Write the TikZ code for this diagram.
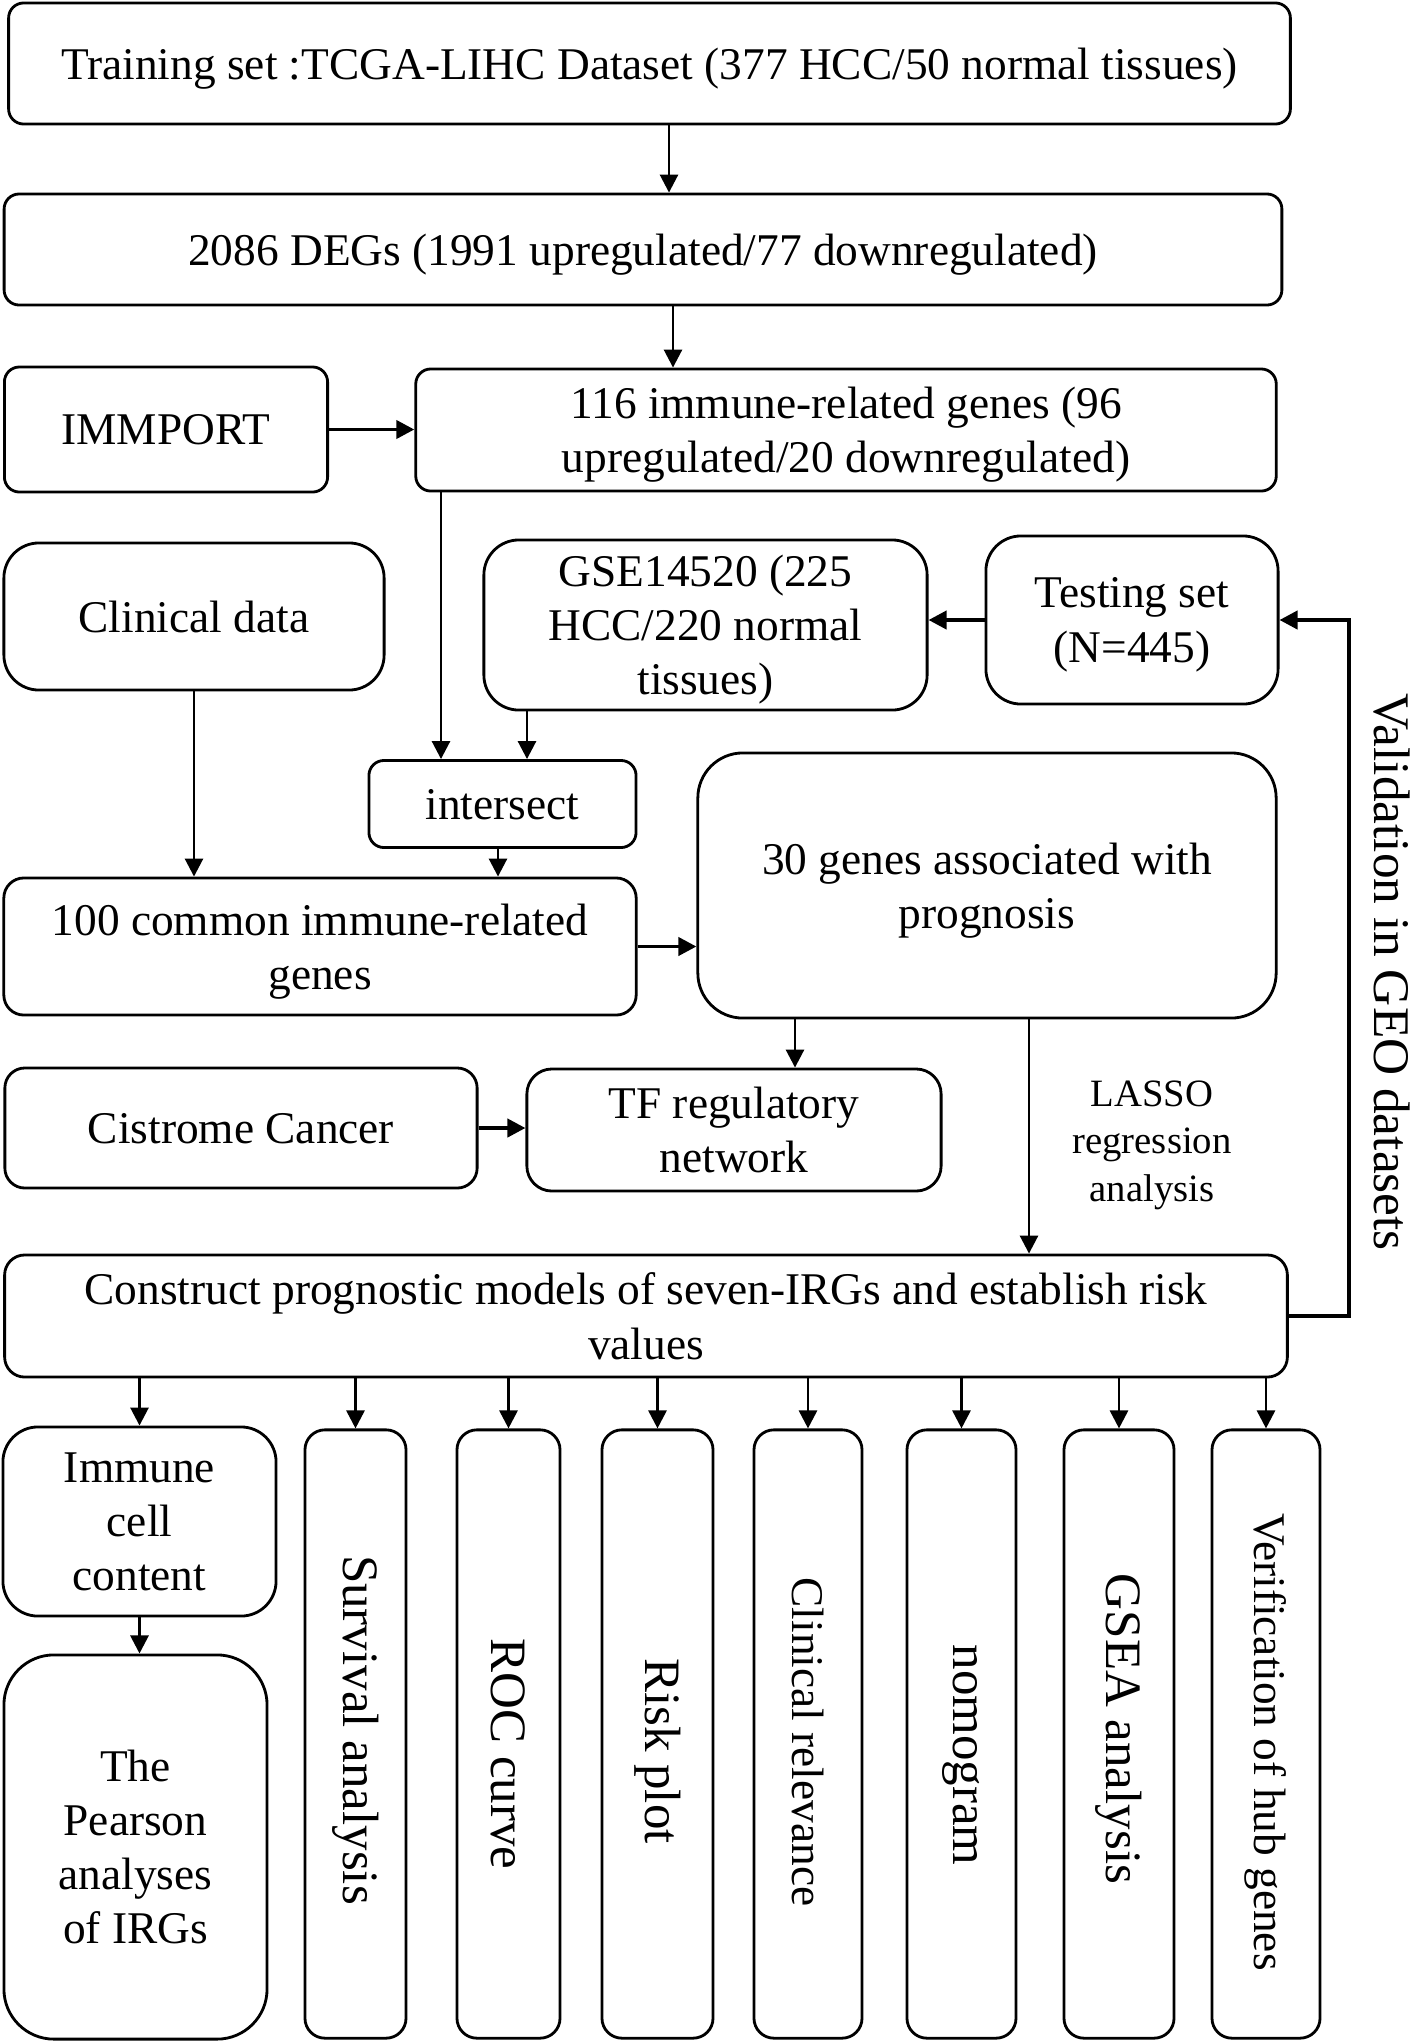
\documentclass[tikz,border=0pt]{standalone}
\usepackage{fontspec}
\setmainfont{Liberation Serif}
\usetikzlibrary{arrows.meta}
\tikzset{
    box/.style={draw, line width=0.8pt, rounded corners=0.15cm, align=center, inner sep=0pt, text depth=0pt, font=\fontsize{12.9}{15.4}\selectfont},
    vbox/.style={draw, line width=0.8pt, rotate=-90, rounded corners=0.2cm, inner sep=0pt, minimum width=6.08cm, font=\fontsize{14.5}{17}\selectfont, execute at begin node={\hspace*{#1}}},
    vbox/.default=0cm,
    arr/.style={-{Triangle[length=0.18cm,width=0.18cm]}, line width=0.8pt},
    harr/.style={arr, line width=1.1pt}
}
\begin{document}
\begin{tikzpicture}[x=0.01cm, y=-0.01cm]
        \useasboundingbox (0,0) rectangle (1411,2042);
        % training data
        \node[box, minimum width=12.81cm, minimum height=1.21cm] (train) at (649.5,63.5) {Training set :TCGA-LIHC Dataset (377 HCC/50 normal tissues)};
        \node[box, minimum width=12.77cm, minimum height=1.11cm] (deg) at (643,249.5) {2086 DEGs (1991 upregulated/77 downregulated)};
        % immune genes
        \node[box, minimum width=3.23cm, minimum height=1.25cm] (immport) at (166,429.5) {IMMPORT};
        \node[box, minimum width=8.60cm, minimum height=1.22cm] (irg) at (846,430) {116 immune-related genes (96\\upregulated/20 downregulated)};
        % testing data
        \node[box, rounded corners=0.35cm, minimum width=3.80cm, minimum height=1.47cm] (clin) at (194,616.5) {Clinical data};
        \node[box, rounded corners=0.35cm, minimum width=4.43cm, minimum height=1.70cm] (gse) at (705.5,625) {GSE14520 (225\\HCC/220 normal\\tissues)};
        \node[box, rounded corners=0.35cm, minimum width=2.92cm, minimum height=1.68cm] (test) at (1132,620) {Testing set\\(N=445)};
        % intersection
        \node[box, minimum width=2.67cm, minimum height=0.87cm] (inter) at (502.5,804) {intersect};
        \node[box, rounded corners=0.2cm, minimum width=6.32cm, minimum height=1.37cm] (common) at (320,946.5) {100 common immune-related\\genes};
        \node[box, rounded corners=0.45cm, minimum width=5.78cm, minimum height=2.65cm] (prog) at (987,885.5) {30 genes associated with\\prognosis};
        % regulatory network
        \node[box, rounded corners=0.2cm, minimum width=4.72cm, minimum height=1.20cm] (cist) at (241,1128) {Cistrome Cancer};
        \node[box, rounded corners=0.25cm, minimum width=4.14cm, minimum height=1.22cm] (tf) at (734,1130) {TF regulatory\\network};
        \node[font=\fontsize{11}{13.5}\selectfont, align=center] (lasso) at (1152,1145) {LASSO\\regression\\analysis};
        % model
        \node[box, rounded corners=0.2cm, minimum width=12.82cm, minimum height=1.22cm] (model) at (646,1316) {Construct prognostic models of seven-IRGs and establish risk\\values};
        \node[rotate=-90, font=\fontsize{14.6}{17}\selectfont] (valid) at (1392,972) {Validation in GEO datasets};
        % analyses
        \node[box, rounded corners=0.35cm, minimum width=2.73cm, minimum height=1.89cm] (immune) at (139.5,1521.5) {Immune\\cell\\content};
        \node[box, rounded corners=0.5cm, minimum width=2.63cm, minimum height=3.84cm] (pearson) at (135.5,1847) {The\\Pearson\\analyses\\of IRGs};
        \node[vbox=-0.08cm, minimum height=1.01cm] (surv) at (355.5,1734) {Survival analysis};
        \node[vbox=0.40cm, minimum height=1.03cm] (roc) at (508.5,1734) {ROC curve};
        \node[vbox=0.34cm, minimum height=1.11cm] (risk) at (657.5,1734) {Risk plot};
        \node[vbox=0.16cm, minimum height=1.08cm, font=\fontsize{12.9}{15.4}\selectfont] (clinrel) at (808,1734) {Clinical relevance};
        \node[vbox=0.42cm, minimum height=1.09cm] (nomo) at (961.5,1734) {nomogram};
        \node[vbox=-0.10cm, minimum height=1.10cm] (gsea) at (1119,1734) {GSEA analysis};
        \node[vbox=0.16cm, minimum height=1.08cm, font=\fontsize{12.9}{15.4}\selectfont] (verif) at (1266,1734) {Verification of hub genes};
        % arrows
        \draw[arr] (train.south -| 669,0) -- (deg.north -| 669,0);
        \draw[arr] (deg.south -| 673,0) -- (irg.north -| 673,0);
        \draw[harr] (immport.east) -- (immport.east -| irg.west);
        \draw[arr] (irg.south -| 441,0) -- (inter.north -| 441,0);
        \draw[arr] (gse.south -| 527,0) -- (inter.north -| 527,0);
        \draw[harr] (test.west) -- (test.west -| gse.east);
        \draw[arr] (clin.south) -- (clin.south |- common.north);
        \draw[arr] (inter.south -| 498,0) -- (common.north -| 498,0);
        \draw[harr] (common.east) -- (common.east -| prog.west);
        \draw[arr] (prog.south -| 795,0) -- (tf.north -| 795,0);
        \draw[harr] (cist.east) -- (cist.east -| tf.west);
        \draw[arr] (prog.south -| 1029,0) -- (model.north -| 1029,0);
        \draw[harr] (model.east) -- ++(60,0) |- (test.east);
        \draw[arr] (model.south -| immune.north) -- (immune.north);
        \draw[arr] (immune.south) -- (immune.south |- pearson.north);
        \foreach \b in {surv,roc,risk,clinrel,nomo,gsea,verif}
            \draw[arr] (model.south -| \b.west) -- (\b.west);
    \end{tikzpicture}
\end{document}
